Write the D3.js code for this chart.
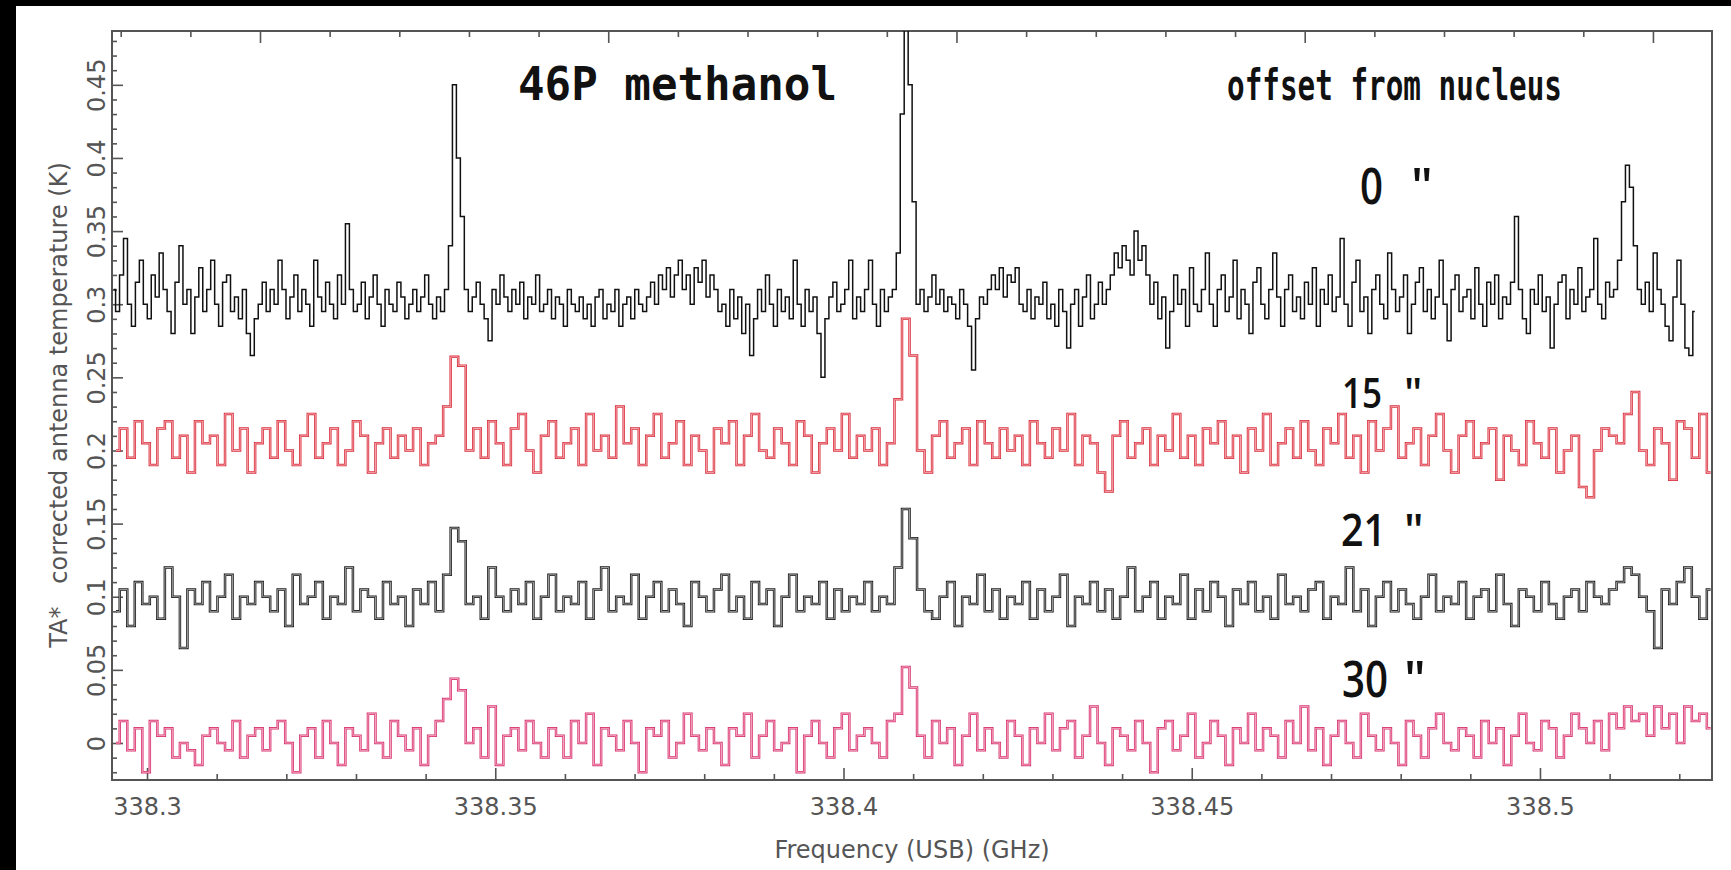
<!DOCTYPE html>
<html>
<head>
<meta charset="utf-8">
<script src="https://cdn.jsdelivr.net/npm/d3@7"></script>
<style>
  body { margin: 0; background: #fff; }
  svg { display: block; }
</style>
</head>
<body>
<script>
// spectral channel grids (GHz)
var fineStart = 338.2952, fineStep = 0.000569;      // 0" spectrum, full resolution
var coarseStart = 338.29554, coarseStep = 0.00108;  // offset spectra, smoothed

var offsetLabels = ["0", "15", "21", "30"];
var xTickLabels = [338.3, 338.35, 338.4, 338.45, 338.5];
var yTickLabels = [0, 0.05, 0.1, 0.15, 0.2, 0.25, 0.3, 0.35, 0.4, 0.45];

// TA* (K)
var spec0 = [
  0.31,0.295,0.32,0.345,0.30,0.285,0.315,0.33,0.30,0.29,0.32,0.305,0.335,0.31,0.295,0.28,0.315,0.34,0.30,0.31,
  0.28,0.305,0.325,0.295,0.31,0.33,0.30,0.285,0.315,0.32,0.295,0.305,0.29,0.31,0.28,0.265,0.29,0.30,0.315,0.295,
  0.31,0.30,0.33,0.31,0.29,0.305,0.32,0.295,0.31,0.30,0.285,0.33,0.305,0.295,0.315,0.30,0.29,0.32,0.30,0.355,
  0.31,0.295,0.30,0.315,0.29,0.305,0.32,0.30,0.285,0.31,0.30,0.295,0.315,0.305,0.29,0.30,0.31,0.295,0.305,0.32,
  0.30,0.29,0.305,0.295,0.31,0.34,0.45,0.40,0.36,0.31,0.295,0.305,0.315,0.30,0.29,0.275,0.31,0.30,0.32,0.305,
  0.295,0.31,0.30,0.315,0.29,0.305,0.30,0.32,0.295,0.30,0.31,0.29,0.305,0.30,0.285,0.31,0.30,0.295,0.305,0.29,
  0.30,0.285,0.305,0.31,0.29,0.30,0.295,0.31,0.285,0.30,0.305,0.29,0.31,0.30,0.295,0.305,0.315,0.30,0.32,0.31,
  0.325,0.305,0.32,0.33,0.31,0.32,0.30,0.325,0.315,0.33,0.305,0.32,0.31,0.295,0.30,0.285,0.31,0.29,0.305,0.28,
  0.30,0.265,0.29,0.31,0.295,0.32,0.30,0.285,0.31,0.295,0.305,0.29,0.33,0.30,0.285,0.31,0.295,0.305,0.28,0.25,
  0.29,0.305,0.315,0.295,0.30,0.31,0.33,0.29,0.305,0.295,0.31,0.33,0.30,0.285,0.31,0.295,0.305,0.31,0.335,0.43,
  0.49,0.45,0.37,0.30,0.31,0.295,0.305,0.32,0.30,0.31,0.295,0.305,0.30,0.29,0.31,0.30,0.285,0.255,0.29,0.305,
  0.30,0.31,0.32,0.31,0.325,0.305,0.32,0.315,0.325,0.30,0.295,0.31,0.29,0.305,0.30,0.315,0.29,0.30,0.285,0.31,
  0.295,0.27,0.30,0.31,0.285,0.305,0.32,0.29,0.30,0.315,0.30,0.31,0.32,0.335,0.325,0.34,0.33,0.32,0.35,0.33,
  0.34,0.32,0.30,0.315,0.29,0.305,0.27,0.295,0.32,0.30,0.31,0.285,0.325,0.30,0.295,0.31,0.335,0.30,0.285,0.31,
  0.32,0.295,0.305,0.33,0.29,0.31,0.30,0.28,0.315,0.325,0.30,0.29,0.31,0.335,0.305,0.285,0.31,0.32,0.295,0.305,
  0.29,0.315,0.30,0.325,0.285,0.31,0.30,0.32,0.295,0.305,0.345,0.30,0.285,0.315,0.33,0.295,0.305,0.28,0.31,0.32,
  0.30,0.29,0.335,0.31,0.295,0.305,0.32,0.28,0.30,0.315,0.325,0.295,0.31,0.29,0.305,0.33,0.30,0.275,0.31,0.32,
  0.295,0.305,0.31,0.29,0.325,0.30,0.285,0.315,0.30,0.32,0.29,0.305,0.30,0.315,0.36,0.31,0.29,0.28,0.31,0.30,
  0.32,0.295,0.305,0.27,0.30,0.315,0.32,0.29,0.31,0.30,0.325,0.295,0.305,0.31,0.345,0.30,0.29,0.315,0.305,0.31,
  0.33,0.37,0.395,0.38,0.34,0.31,0.30,0.315,0.295,0.335,0.31,0.30,0.285,0.275,0.305,0.33,0.30,0.27,0.265,0.295
];
var spec15 = [
  0.20,0.215,0.195,0.22,0.205,0.19,0.215,0.22,0.195,0.21,0.185,0.22,0.205,0.21,0.19,0.225,0.20,0.215,0.185,0.205,
  0.215,0.195,0.22,0.20,0.19,0.21,0.225,0.195,0.205,0.215,0.19,0.20,0.22,0.21,0.185,0.205,0.215,0.195,0.21,0.20,
  0.215,0.19,0.205,0.21,0.23,0.264,0.258,0.20,0.215,0.195,0.22,0.205,0.19,0.215,0.225,0.20,0.185,0.21,0.22,0.195,
  0.205,0.215,0.19,0.225,0.20,0.21,0.195,0.23,0.205,0.215,0.19,0.21,0.225,0.195,0.205,0.22,0.19,0.21,0.20,0.185,
  0.215,0.205,0.22,0.19,0.21,0.225,0.20,0.195,0.215,0.205,0.19,0.22,0.21,0.185,0.205,0.215,0.20,0.225,0.195,0.21,
  0.20,0.215,0.19,0.205,0.235,0.29,0.265,0.20,0.185,0.21,0.22,0.195,0.205,0.215,0.19,0.22,0.205,0.195,0.215,0.20,
  0.21,0.19,0.22,0.205,0.195,0.215,0.20,0.225,0.19,0.21,0.205,0.185,0.172,0.21,0.22,0.195,0.205,0.215,0.19,0.21,
  0.20,0.225,0.195,0.21,0.19,0.215,0.205,0.22,0.195,0.21,0.185,0.215,0.20,0.225,0.19,0.205,0.215,0.195,0.22,0.20,
  0.19,0.215,0.205,0.225,0.195,0.21,0.185,0.22,0.20,0.215,0.23,0.195,0.205,0.215,0.19,0.21,0.225,0.20,0.185,0.21,
  0.22,0.195,0.205,0.215,0.18,0.21,0.20,0.19,0.22,0.205,0.195,0.215,0.185,0.20,0.21,0.175,0.168,0.20,0.215,0.21,
  0.205,0.225,0.24,0.20,0.19,0.215,0.205,0.18,0.22,0.215,0.195,0.225,0.185
];
var spec21 = [
  0.09,0.105,0.08,0.11,0.095,0.10,0.085,0.12,0.10,0.065,0.105,0.095,0.11,0.09,0.10,0.115,0.085,0.10,0.095,0.11,
  0.10,0.09,0.105,0.08,0.115,0.095,0.10,0.11,0.085,0.10,0.095,0.12,0.09,0.105,0.10,0.085,0.11,0.095,0.10,0.08,
  0.105,0.095,0.11,0.09,0.115,0.147,0.138,0.095,0.10,0.085,0.12,0.10,0.09,0.105,0.095,0.11,0.085,0.10,0.115,0.09,
  0.10,0.095,0.11,0.085,0.105,0.12,0.09,0.10,0.095,0.115,0.085,0.10,0.11,0.09,0.105,0.095,0.08,0.11,0.10,0.09,
  0.105,0.115,0.09,0.10,0.085,0.11,0.095,0.105,0.08,0.10,0.115,0.09,0.10,0.095,0.11,0.085,0.105,0.09,0.10,0.095,
  0.11,0.09,0.10,0.095,0.12,0.16,0.14,0.105,0.09,0.085,0.10,0.11,0.08,0.10,0.095,0.115,0.09,0.105,0.085,0.10,
  0.095,0.11,0.085,0.105,0.09,0.10,0.115,0.08,0.10,0.095,0.11,0.09,0.105,0.085,0.10,0.12,0.09,0.10,0.11,0.085,
  0.10,0.095,0.115,0.085,0.105,0.09,0.11,0.10,0.08,0.105,0.095,0.11,0.09,0.10,0.085,0.115,0.095,0.10,0.09,0.105,
  0.11,0.085,0.10,0.095,0.12,0.09,0.105,0.08,0.10,0.11,0.09,0.105,0.095,0.085,0.10,0.115,0.09,0.10,0.095,0.11,
  0.085,0.10,0.105,0.09,0.115,0.095,0.08,0.105,0.10,0.09,0.11,0.095,0.085,0.10,0.105,0.09,0.11,0.10,0.095,0.105,
  0.11,0.12,0.115,0.10,0.09,0.065,0.105,0.095,0.11,0.12,0.10,0.085,0.105
];
var spec30 = [
  0.0,0.015,-0.005,0.01,-0.02,0.015,0.005,0.01,-0.01,0.0,-0.005,-0.015,0.005,0.01,0.0,-0.005,0.015,-0.01,0.005,0.01,
  -0.005,0.01,0.015,0.0,-0.02,0.005,0.01,-0.01,0.015,0.0,-0.015,0.01,0.005,-0.005,0.02,0.0,-0.01,0.015,0.005,-0.005,
  0.01,-0.015,0.005,0.015,0.03,0.044,0.036,0.0,0.01,-0.01,0.025,-0.015,0.005,0.01,-0.005,0.015,0.0,-0.01,0.01,0.005,
  -0.01,0.015,0.0,0.02,-0.015,0.01,0.005,-0.005,0.015,0.0,-0.02,0.01,0.005,0.015,-0.01,0.0,0.02,0.005,-0.005,0.01,
  0.0,-0.015,0.01,0.005,0.02,-0.01,0.005,0.015,-0.005,0.0,0.01,-0.02,0.005,0.015,0.0,-0.01,0.01,0.02,-0.005,0.005,
  0.01,0.0,-0.01,0.015,0.02,0.052,0.038,0.005,-0.01,0.015,0.0,0.01,-0.015,0.005,0.02,-0.005,0.01,0.0,-0.01,0.015,
  0.005,-0.015,0.01,0.0,0.02,-0.005,0.01,0.015,-0.01,0.005,0.025,0.0,-0.015,0.01,0.005,-0.005,0.015,0.0,-0.02,0.01,
  0.015,-0.005,0.005,0.02,-0.01,0.0,0.015,0.005,-0.015,0.01,0.0,0.02,-0.005,0.01,0.005,-0.01,0.015,0.0,0.025,-0.005,
  0.01,-0.015,0.005,0.015,0.0,-0.01,0.02,0.005,-0.005,0.01,0.0,-0.015,0.015,0.005,-0.01,0.01,0.02,0.0,-0.005,0.01,
  0.005,-0.01,0.015,0.0,0.01,-0.015,0.005,0.02,0.0,-0.005,0.015,0.01,-0.01,0.005,0.02,0.01,0.0,0.015,-0.005,0.02,
  0.01,0.025,0.015,0.02,0.005,0.025,0.01,0.02,0.0,0.025,0.015,0.02,0.01
];

var W = 1731, H = 870;
var plot = {left: 112, top: 31, right: 1712, bottom: 780};

var svg = d3.select("body").append("svg")
    .attr("width", W)
    .attr("height", H);

//black scan border (top and left)
svg.append("rect").attr("x", 0).attr("y", 0).attr("width", W).attr("height", 6).attr("fill", "#000");
svg.append("rect").attr("x", 0).attr("y", 0).attr("width", 16).attr("height", H).attr("fill", "#000");

var x = d3.scaleLinear()
    .domain([338.29497, 338.52470])
    .range([plot.left, plot.right]);

//top axis is the image sideband, offset from the signal axis
var xTop = d3.scaleLinear()
    .domain([338.29497 - 0.01622, 338.52470 - 0.01622])
    .range([plot.left, plot.right]);

var y = d3.scaleLinear()
    .domain([-0.0253, 0.4868])
    .range([plot.bottom, plot.top]);

var axisColor = "#555";

function minorTicks(scale, step){
    var d = scale.domain();
    return d3.range(Math.ceil(d[0] / step) * step, d[1], step)
        .filter(function(v){ return Math.abs(v / (step * 5) - Math.round(v / (step * 5))) > 1e-6; });
}

function styleAxis(g){
    g.select(".domain").remove();
    g.selectAll(".tick line").attr("stroke", axisColor).attr("stroke-width", 1.6);
    g.selectAll(".tick text")
        .attr("fill", axisColor)
        .style("font-family", "'DejaVu Sans', Verdana, sans-serif")
        .style("font-size", "24px");
}

//bottom axis
svg.append("g")
    .attr("transform", "translate(0," + plot.bottom + ")")
    .call(d3.axisBottom(x).tickValues(minorTicks(x, 0.01)).tickSize(-6).tickFormat(""))
    .call(styleAxis);
svg.append("g")
    .attr("transform", "translate(0," + plot.bottom + ")")
    .call(d3.axisBottom(x).tickValues(xTickLabels).tickSize(-12).tickPadding(18)
        .tickFormat(function(d){ return String(d); }))
    .call(styleAxis);

//top axis, ticks only
var topMajor = d3.range(Math.ceil(xTop.domain()[0] / 0.05) * 0.05, xTop.domain()[1], 0.05);
svg.append("g")
    .attr("transform", "translate(0," + plot.top + ")")
    .call(d3.axisTop(xTop).tickValues(minorTicks(xTop, 0.01)).tickSize(-6).tickFormat(""))
    .call(styleAxis);
svg.append("g")
    .attr("transform", "translate(0," + plot.top + ")")
    .call(d3.axisTop(xTop).tickValues(topMajor).tickSize(-12).tickFormat(""))
    .call(styleAxis);

//left axis
svg.append("g")
    .attr("transform", "translate(" + plot.left + ",0)")
    .call(d3.axisLeft(y).tickValues(minorTicks(y, 0.01)).tickSize(-5).tickFormat(""))
    .call(styleAxis);
var yAx = svg.append("g")
    .attr("transform", "translate(" + plot.left + ",0)")
    .call(d3.axisLeft(y).tickValues(yTickLabels).tickSize(-11)
        .tickFormat(function(d){ return String(d); }))
    .call(styleAxis);
//rotated tick labels, reading upward
yAx.selectAll(".tick text")
    .attr("transform", "rotate(-90)")
    .attr("x", 0)
    .attr("y", -7)
    .attr("dy", 0)
    .attr("text-anchor", "middle");

//frame
svg.append("rect")
    .attr("x", plot.left)
    .attr("y", plot.top)
    .attr("width", plot.right - plot.left)
    .attr("height", plot.bottom - plot.top)
    .attr("fill", "none")
    .attr("stroke", axisColor)
    .attr("stroke-width", 2);

//axis titles
svg.append("text")
    .attr("x", (plot.left + plot.right) / 2)
    .attr("y", 858)
    .attr("text-anchor", "middle")
    .attr("fill", axisColor)
    .style("font-family", "'DejaVu Sans', Verdana, sans-serif")
    .style("font-size", "24px")
    .text("Frequency (USB) (GHz)");

svg.append("text")
    .attr("transform", "translate(67,405) rotate(-90)")
    .attr("text-anchor", "middle")
    .attr("fill", axisColor)
    .style("font-family", "'DejaVu Sans', Verdana, sans-serif")
    .style("font-size", "24px")
    .text("TA*\u00a0\u00a0 corrected antenna temperature (K)");

//spectra
svg.append("clipPath").attr("id", "plotclip")
    .append("rect")
    .attr("x", plot.left).attr("y", plot.top)
    .attr("width", plot.right - plot.left).attr("height", plot.bottom - plot.top);

var layer = svg.append("g").attr("clip-path", "url(#plotclip)");

function stepLine(start, step){
    return d3.line()
        .curve(d3.curveStep)
        .x(function(d, i){ return x(start + i * step); })
        .y(function(d){ return y(d); });
}

var series = [
    {values: spec0,  start: fineStart,   step: fineStep,   outer: "#111",    inner: null,      wo: 1.5, wi: 0},
    {values: spec21, start: coarseStart, step: coarseStep, outer: "#1a1a1a", inner: "#b0b0b0", wo: 2.5, wi: 0.9},
    {values: spec30, start: coarseStart, step: coarseStep, outer: "#d8336f", inner: "#f6b3ca", wo: 2.5, wi: 0.9},
    {values: spec15, start: coarseStart, step: coarseStep, outer: "#d9303f", inner: "#f7b0b3", wo: 2.5, wi: 0.9}
];

series.forEach(function(s){
    var line = stepLine(s.start, s.step);
    layer.append("path")
        .datum(s.values)
        .attr("d", line)
        .attr("fill", "none")
        .attr("stroke", s.outer)
        .attr("stroke-width", s.wo);
    if (s.inner) {
        layer.append("path")
            .datum(s.values)
            .attr("d", line)
            .attr("fill", "none")
            .attr("stroke", s.inner)
            .attr("stroke-width", s.wi);
    }
});

//annotations
svg.append("text")
    .attr("x", 518)
    .attr("y", 100)
    .attr("textLength", 319)
    .attr("lengthAdjust", "spacingAndGlyphs")
    .style("font-family", "'DejaVu Sans Mono', monospace")
    .style("font-weight", "bold")
    .style("font-size", "47px")
    .attr("fill", "#111")
    .text("46P methanol");

svg.append("text")
    .attr("x", 1227)
    .attr("y", 100)
    .attr("textLength", 335)
    .attr("lengthAdjust", "spacingAndGlyphs")
    .style("font-family", "'DejaVu Sans Mono', monospace")
    .style("font-weight", "bold")
    .style("font-size", "42px")
    .attr("fill", "#111")
    .text("offset from nucleus");

var labelLayout = [
    {x: 1360, y: 204, size: 50, w: 23, q: 1411},
    {x: 1342, y: 408, size: 42, w: 40, q: 1404},
    {x: 1341, y: 546, size: 45, w: 45, q: 1404},
    {x: 1342, y: 697, size: 50, w: 46, q: 1404}
];

offsetLabels.forEach(function(lab, i){
    var p = labelLayout[i];
    svg.append("text")
        .attr("x", p.x)
        .attr("y", p.y)
        .attr("textLength", p.w)
        .attr("lengthAdjust", "spacingAndGlyphs")
        .style("font-family", "'Open Sans', 'DejaVu Sans', sans-serif")
        .style("font-weight", "600")
        .style("font-size", p.size + "px")
        .attr("fill", "#111")
        .text(lab);
    svg.append("text")
        .attr("x", p.q)
        .attr("y", p.y)
        .style("font-family", "'Open Sans', 'DejaVu Sans', sans-serif")
        .style("font-weight", "600")
        .style("font-size", p.size + "px")
        .attr("fill", "#111")
        .text("\"");
});
</script>
</body>
</html>
